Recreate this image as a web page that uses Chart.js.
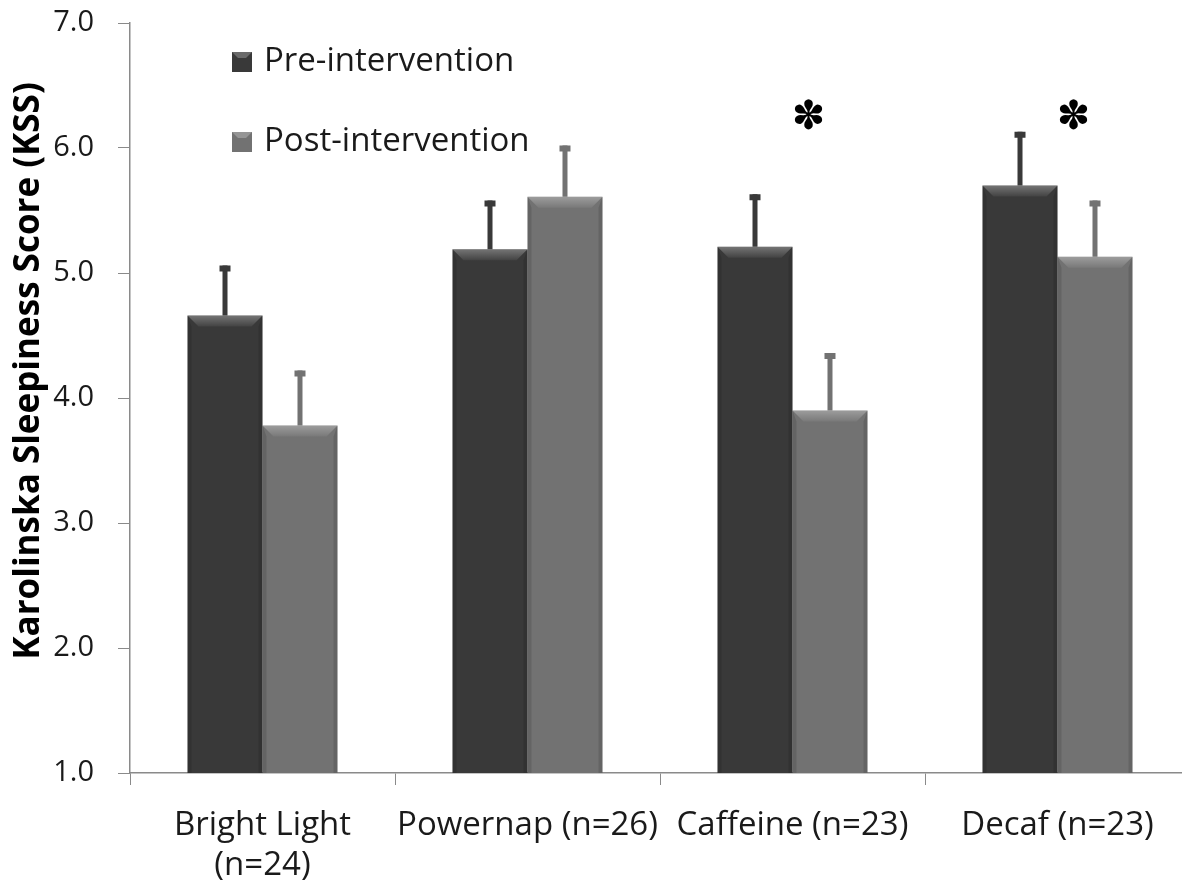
<!DOCTYPE html>
<html>
<head>
<meta charset="utf-8">
<script src="https://cdn.jsdelivr.net/npm/chart.js@4"></script>
<style>
  html, body { margin: 0; padding: 0; background: #fff; overflow: hidden; }
  #wrap { width: 1192px; height: 885px; }
</style>
</head>
<body>
<div id="wrap"><canvas id="kssChart" width="1192" height="885"></canvas></div>
<script>
// chart values
const groups = [["Bright Light", "(n=24)"], "Powernap (n=26)", "Caffeine (n=23)", "Decaf (n=23)"];
const preValues = [4.66, 5.19, 5.21, 5.70];
const postValues = [3.78, 5.61, 3.90, 5.13];
const preErr = [0.40, 0.39, 0.42, 0.43];
const postErr = [0.44, 0.41, 0.46, 0.45];
const sigMarks = ["", "", "✽", "✽"];
const yTicks = [1, 2, 3, 4, 5, 6, 7];
const yTitle = "Karolinska Sleepiness Score (KSS)";

const FONT = "'Open Sans', 'Noto Sans', sans-serif";
const preColor = "#393939";
const postColor = "#727272";

// bevel look + error bars on top of each bar
const barExtras = {
  id: "barExtras",
  afterDatasetsDraw(chart) {
    const ctx = chart.ctx;
    const yScale = chart.scales.y;
    const area = chart.chartArea;
    chart.data.datasets.forEach((ds, di) => {
      const meta = chart.getDatasetMeta(di);
      meta.data.forEach((bar, i) => {
        const w = bar.width;
        const l = bar.x - w / 2, r = bar.x + w / 2, t = bar.y;
        const b = Math.min(bar.base, area.bottom);
        const bv = 11, sd = 4;
        ctx.save();
        // top bevel
        const g = ctx.createLinearGradient(0, t, 0, t + bv);
        g.addColorStop(0, "rgba(255,255,255,0.30)");
        g.addColorStop(1, "rgba(255,255,255,0.05)");
        ctx.fillStyle = g;
        ctx.beginPath();
        ctx.moveTo(l, t); ctx.lineTo(r, t); ctx.lineTo(r - bv, t + bv); ctx.lineTo(l + bv, t + bv);
        ctx.closePath(); ctx.fill();
        // side shading
        ctx.fillStyle = "rgba(0,0,0,0.12)";
        ctx.beginPath();
        ctx.moveTo(l, t); ctx.lineTo(l + sd, t + bv); ctx.lineTo(l + sd, b); ctx.lineTo(l, b);
        ctx.closePath(); ctx.fill();
        ctx.beginPath();
        ctx.moveTo(r, t); ctx.lineTo(r - sd, t + bv); ctx.lineTo(r - sd, b); ctx.lineTo(r, b);
        ctx.closePath(); ctx.fill();
        // error bar
        const err = ds.errors[i];
        const yTop = yScale.getPixelForValue(ds.data[i] + err);
        ctx.fillStyle = ds.backgroundColor;
        ctx.fillRect(bar.x - 2.5, yTop, 5, t - yTop);
        ctx.fillRect(bar.x - 5.5, yTop, 11, 6);
        ctx.restore();
      });
    });
    // significance asterisks
    const xScale = chart.scales.x;
    ctx.save();
    ctx.fillStyle = "#000";
    ctx.font = "40px 'DejaVu Sans', sans-serif";
    ctx.textAlign = "center";
    ctx.textBaseline = "middle";
    sigMarks.forEach((m, i) => {
      if (!m) return;
      ctx.fillText(m, xScale.getPixelForValue(i) + 16, 119);
    });
    ctx.restore();
  }
};

// legend drawn inside the plot area, plus the y axis title
const innerLegend = {
  id: "innerLegend",
  afterDraw(chart) {
    const ctx = chart.ctx;
    ctx.save();
    chart.data.datasets.forEach((ds, i) => {
      const y = 62 + i * 80;
      ctx.fillStyle = ds.backgroundColor;
      ctx.fillRect(232, y - 10, 20, 20);
      ctx.fillStyle = "rgba(255,255,255,0.25)";
      ctx.beginPath();
      ctx.moveTo(232, y - 10); ctx.lineTo(252, y - 10); ctx.lineTo(246, y - 4); ctx.lineTo(238, y - 4);
      ctx.closePath(); ctx.fill();
      ctx.fillStyle = "#1a1a1a";
      ctx.font = "33px " + FONT;
      ctx.textAlign = "left";
      ctx.textBaseline = "middle";
      ctx.fillText(ds.label, 264, y);
    });
    ctx.translate(29, 371);
    ctx.rotate(-Math.PI / 2);
    ctx.fillStyle = "#000";
    ctx.font = "bold 35px " + FONT;
    ctx.textAlign = "center";
    ctx.textBaseline = "middle";
    ctx.fillText(yTitle, 0, 0);
    ctx.restore();
  }
};

const ctx = document.getElementById("kssChart").getContext("2d");
const chart = new Chart(ctx, {
  type: "bar",
  data: {
    labels: groups,
    datasets: [
      { label: "Pre-intervention", data: preValues, errors: preErr, backgroundColor: preColor },
      { label: "Post-intervention", data: postValues, errors: postErr, backgroundColor: postColor }
    ]
  },
  options: {
    responsive: false,
    animation: false,
    events: [],
    layout: { padding: { top: 23, right: 2, left: 0, bottom: 0 } },
    datasets: { bar: { categoryPercentage: 0.566, barPercentage: 1.0 } },
    plugins: { legend: { display: false }, tooltip: { enabled: false } },
    scales: {
      x: {
        grid: { drawOnChartArea: false, drawTicks: true, tickLength: 12, color: "#8a8a8a", offset: true },
        border: { color: "#8a8a8a", width: 1.5 },
        ticks: { color: "#1a1a1a", font: { family: FONT, size: 33 }, padding: 21, maxRotation: 0, autoSkip: false },
        afterFit(scale) { scale.height = 112; scale.paddingLeft = 0; scale.paddingRight = 0; }
      },
      y: {
        min: 1, max: 7,
        afterBuildTicks(scale) { scale.ticks = yTicks.map(v => ({ value: v })); },
        grid: { drawOnChartArea: false, drawTicks: true, tickLength: 12, color: "#8a8a8a" },
        border: { color: "#8a8a8a", width: 1.5 },
        ticks: { color: "#1a1a1a", font: { family: FONT, size: 29 }, padding: 24, callback: v => v.toFixed(1) },
        afterFit(scale) { scale.width = 130; scale.paddingTop = 0; scale.paddingBottom = 0; }
      }
    }
  },
  plugins: [barExtras, innerLegend]
});
</script>
</body>
</html>
